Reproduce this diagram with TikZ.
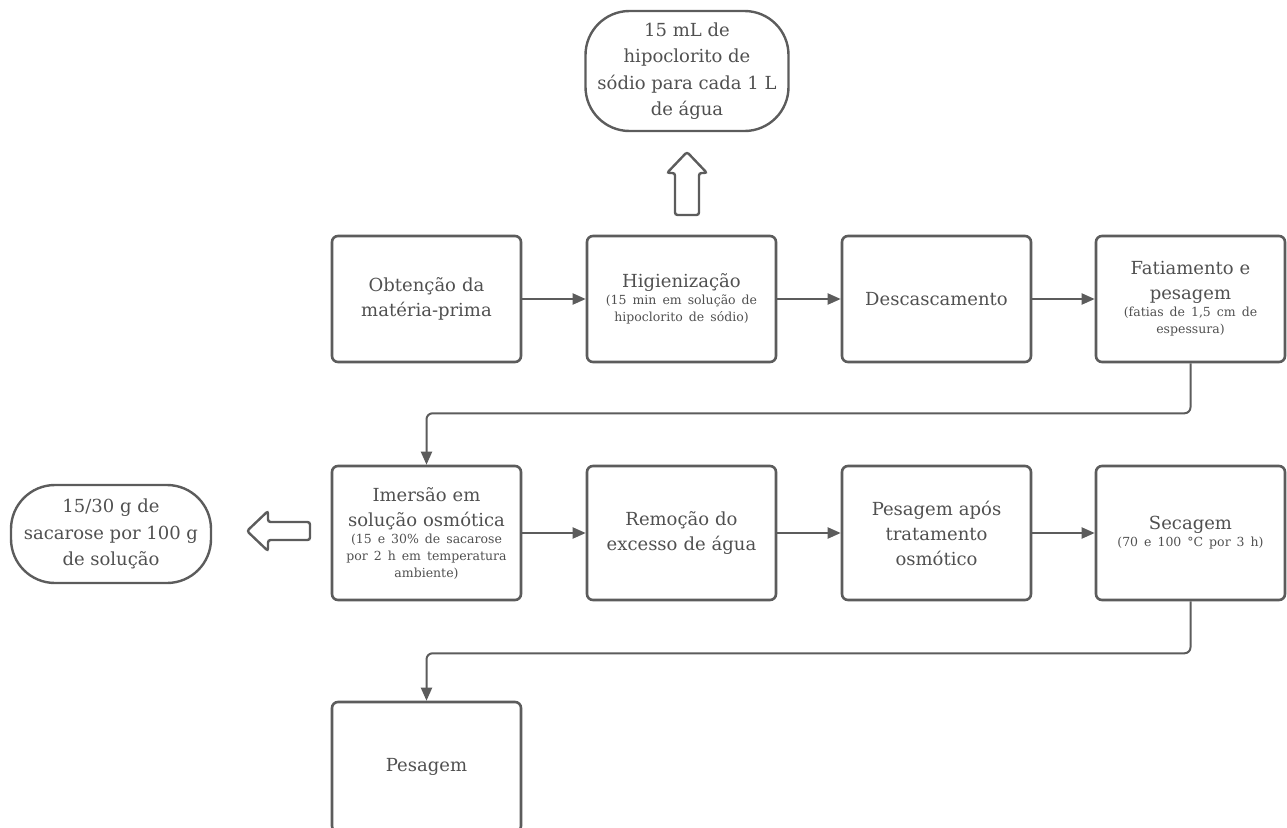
\documentclass[tikz,border=0pt]{standalone}
\usepackage{fontspec}
\setmainfont{DejaVu Serif}
\usetikzlibrary{arrows.meta}
\definecolor{ln}{HTML}{5C5C5C}
\definecolor{tx}{HTML}{505050}
\newcommand\smallnote{\fontsize{12.5}{17}\selectfont}
\begin{document}
\begin{tikzpicture}[x=1pt,y=-1pt,
  box/.style={draw=ln, line width=2.6pt, rounded corners=6pt, minimum width=189pt,
    align=center, text=tx, text width=185pt, inner sep=2pt,
    font=\fontsize{18}{25}\selectfont},
  rowa/.style={box, minimum height=126pt},
  rowb/.style={box, minimum height=134pt},
  pill/.style={draw=ln, line width=2.4pt, rounded corners=44pt, align=center,
    text=tx, inner sep=2pt, font=\fontsize{18}{26.5}\selectfont},
  conn/.style={draw=ln, line width=2pt, rounded corners=6pt,
    -{Triangle[length=13pt,width=11pt]}},
  hollow/.style={draw=ln, line width=2.4pt, rounded corners=2.5pt, fill=white}
]
\useasboundingbox (0,0) rectangle (1287,827);
\clip (0,0) rectangle (1287,827);

% row 1
\node[rowa] (b1) at (426.5,299) {Obtenção da\\matéria-prima};
\node[rowa] (b2) at (681.5,299) {Higienização\\{\smallnote (15 min em solução de\\hipoclorito de sódio)\par}};
\node[rowa] (b3) at (936.5,299) {Descascamento};
\node[rowa] (b4) at (1190.5,299) {Fatiamento e\\pesagem\\{\smallnote (fatias de 1,5 cm de\\espessura)\par}};

% row 2
\node[rowb] (b5) at (426.5,533) {Imersão em\\solução osmótica\\{\smallnote (15 e 30\% de sacarose\\por 2 h em temperatura\\ambiente)\par}};
\node[rowb] (b6) at (681.5,533) {Remoção do\\excesso de água};
\node[rowb] (b7) at (936.5,533) {Pesagem após\\tratamento\\osmótico};
\node[rowb] (b8) at (1190.5,533) {Secagem\\{\smallnote (70 e 100 °C por 3 h)\par}};

% row 3
\node[box, minimum height=130pt] (b9) at (426.5,767) {Pesagem};

% side notes
\node[pill, minimum width=203pt, minimum height=120pt] (p1) at (687,71)
  {15 mL de\\hipoclorito de\\sódio para cada 1 L\\de água};
\node[pill, minimum width=200pt, minimum height=98pt] (p2) at (111,534)
  {15/30 g de\\sacarose por 100 g\\de solução};

% connectors
\draw[conn] (b1.east) -- (b2.west);
\draw[conn] (b2.east) -- (b3.west);
\draw[conn] (b3.east) -- (b4.west);
\draw[conn] (b4.south) -- ++(0,50) -| (b5.north);
\draw[conn] (b5.east) -- (b6.west);
\draw[conn] (b6.east) -- (b7.west);
\draw[conn] (b7.east) -- (b8.west);
\draw[conn] (b8.south) -- ++(0,52) -| (b9.north);

% hollow arrows
\coordinate (ua) at (687,215);
\draw[hollow] (ua) ++(-12,0) -- ++(0,-42) -- ++(-8,0) -- ++(20,-21) -- ++(20,21)
  -- ++(-8,0) -- ++(0,42) -- cycle;
\coordinate (la) at (310,531);
\draw[hollow] (la) ++(0,-9) -- ++(-42,0) -- ++(0,-11) -- ++(-21,20) -- ++(21,20)
  -- ++(0,-11) -- ++(42,0) -- cycle;
\end{tikzpicture}
\end{document}
